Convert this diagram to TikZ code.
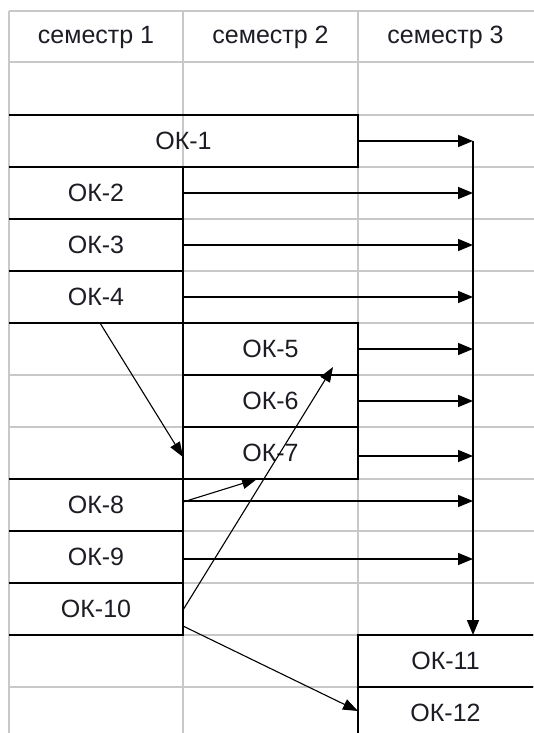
\documentclass[tikz,border=0pt]{standalone}
\usepackage{fontspec}
\setmainfont{Liberation Sans}
\usetikzlibrary{arrows.meta}
\definecolor{gridgray}{HTML}{C8C8C8}
\definecolor{ink}{HTML}{1C1C24}
\begin{document}
\begin{tikzpicture}[x=1pt,y=-1pt,
  grid/.style={draw=gridgray, line width=1.3pt},
  border/.style={draw=black, line width=1.6pt},
  cell/.style={inner sep=0pt, outer sep=0pt, minimum height=52pt,
    font=\fontsize{25}{28}\selectfont, text=ink},
  flow/.style={line width=1.5pt, -{Triangle[length=15pt,width=12pt]}},
  link/.style={line width=1.1pt, -{Triangle[length=15pt,width=11pt]}}]

% page
\fill[white] (0,0) rectangle (534,733);
\useasboundingbox (0,0) rectangle (534,733);

% spreadsheet grid
\foreach \gx in {9,183,358} \draw[grid] (\gx,11) -- (\gx,733);
\foreach \gy in {11,62,115,167,219,271,323,375,427,479,531,583,635,687}
  \draw[grid] (9,\gy) -- (534,\gy);

% column headers
\node[cell, minimum width=174pt] (h1) at (96,37) {семестр 1};
\node[cell, minimum width=175pt] (h2) at (270.5,37) {семестр 2};
\node[cell, minimum width=175pt] (h3) at (445.5,37) {семестр 3};

% course cells
\node[cell, minimum width=349pt] (ok1) at (183.5,141) {ОК-1};
\node[cell, minimum width=174pt] (ok2) at (96,193) {ОК-2};
\node[cell, minimum width=174pt] (ok3) at (96,245) {ОК-3};
\node[cell, minimum width=174pt] (ok4) at (96,297) {ОК-4};
\node[cell, minimum width=175pt] (ok5) at (270.5,349) {ОК-5};
\node[cell, minimum width=175pt] (ok6) at (270.5,401) {ОК-6};
\node[cell, minimum width=175pt] (ok7) at (270.5,453) {ОК-7};
\node[cell, minimum width=174pt] (ok8) at (96,505) {ОК-8};
\node[cell, minimum width=174pt] (ok9) at (96,557) {ОК-9};
\node[cell, minimum width=174pt] (ok10) at (96,609) {ОК-10};
\node[cell, minimum width=175pt] (ok11) at (445.5,661) {ОК-11};
\node[cell, minimum width=175pt] (ok12) at (445.5,713) {ОК-12};

% cell borders (top, right, bottom)
\foreach \c in {ok1,ok2,ok3,ok4,ok5,ok6,ok7,ok8,ok9,ok10}
  \draw[border] (\c.north west) -- (\c.north east) -- (\c.south east) -- (\c.south west);
\draw[border] (ok5.north west) -- (ok7.south west);
\draw[border] (ok11.north east) -- (ok11.north west) -- (ok12.south west);
\draw[border] (ok11.south west) -- (ok11.south east);

% start points of the arrows leaving the cells
\coordinate (s7) at ([yshift=-3pt]ok7.east);
\coordinate (s8) at ([yshift=4pt]ok8.east);
\coordinate (s9) at ([yshift=-2pt]ok9.east);

% collecting line into OK-11
\coordinate (bus) at (473,141);
\draw[flow] (ok1.east) -- (bus);
\draw[flow] (bus) -- (bus |- ok11.north);
\foreach \c in {ok2,ok3,ok4,ok5,ok6,s7,s8,s9}
  \draw[flow] (\c) -- (bus |- \c);

% prerequisite links
\draw[link] ([xshift=91pt]ok4.south west) -- ([yshift=-4pt]ok7.west);
\draw[link] ([yshift=3pt]ok8.east) -- ([xshift=74pt]ok7.south west);
\draw[link] ([yshift=-1pt]ok10.east) -- ([xshift=150pt,yshift=8pt]ok5.south west);
\draw[link] ([yshift=-17pt]ok10.east) -- ([yshift=2pt]ok12.west);
\end{tikzpicture}
\end{document}
